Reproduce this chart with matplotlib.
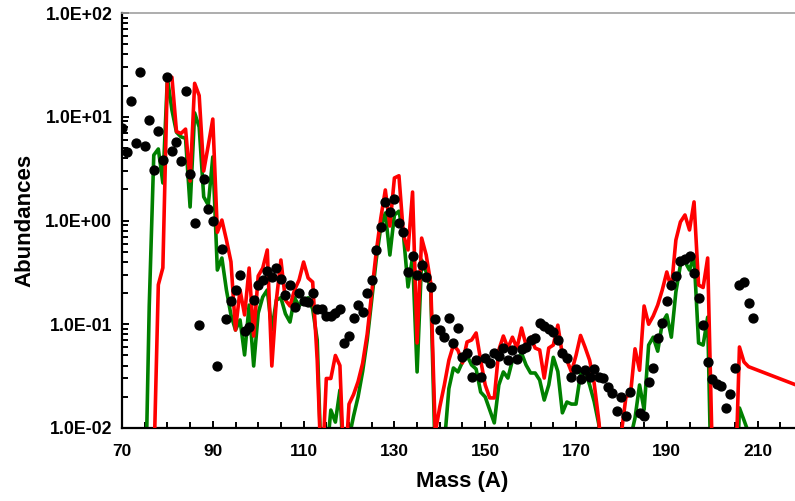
import numpy as np
import matplotlib.pyplot as plt
from matplotlib.ticker import FixedLocator, MultipleLocator, LogLocator, FuncFormatter, NullFormatter

plt.rcParams['font.family'] = ['Liberation Sans', 'DejaVu Sans']
plt.rcParams['font.weight'] = 'bold'

#%% solar r-process abundances (black dots), A = 70..209, no value at 183
mass_obs = np.arange(70, 210)
obs = [7.8, 4.6, 14.2, 5.6, 27, 5.2, 9.3, 3.07, 7.3, 3.83,                      # 70
       24.2, 4.68, 5.7, 3.75, 17.7, 2.8, 0.95, 0.099, 2.53, 1.29,               # 80
       0.98, 0.04, 0.535, 0.112, 0.169, 0.214, 0.299, 0.087, 0.095, 0.171,      # 90
       0.239, 0.267, 0.326, 0.288, 0.346, 0.271, 0.191, 0.239, 0.146, 0.201,    # 100
       0.167, 0.165, 0.199, 0.139, 0.139, 0.12, 0.12, 0.127, 0.139, 0.0655,     # 110
       0.0776, 0.114, 0.155, 0.130, 0.199, 0.267, 0.52, 0.86, 1.52, 1.22,       # 120
       1.61, 0.953, 0.78, 0.316, 0.455, 0.298, 0.372, 0.283, 0.227, 0.112,      # 130
       0.088, 0.075, 0.114, 0.066, 0.093, 0.048, 0.0525, 0.0313, 0.045, 0.0313, # 140
       0.047, 0.0427, 0.0532, 0.0494, 0.0586, 0.045, 0.0565, 0.046, 0.0574, 0.0608,  # 150
       0.0705, 0.0731, 0.1035, 0.096, 0.09, 0.0848, 0.0705, 0.0532, 0.047, 0.0313,   # 160
       0.0368, 0.0295, 0.0362, 0.0313, 0.0373, 0.0313, 0.0306, 0.0247, 0.0216, 0.0147,  # 170
       0.02, 0.0131, 0.0224, np.nan, 0.0139, 0.0131, 0.0279, 0.0376, 0.0733, 0.1035,   # 180
       0.1686, 0.239, 0.292, 0.41, 0.423, 0.458, 0.314, 0.178, 0.0984, 0.043,   # 190
       0.0295, 0.0264, 0.0256, 0.0157, 0.0213, 0.0376, 0.239, 0.253, 0.159, 0.1156]  # 200

#%% green calculation, A = 75..210
mass_green = np.arange(75, 211)
green = [0.001, 0.15, 4.27, 4.89, 2.3,                                          # 75
         23.6, 11.6, 7.1, 6.4, 6.2, 1.35, 10.9, 7.96, 1.69, 1.41,               # 80
         4.1, 0.333, 0.435, 0.214, 0.123, 0.088, 0.11, 0.0506, 0.153, 0.0396,   # 90
         0.128, 0.183, 0.214, 0.088, 0.171, 0.18, 0.126, 0.105, 0.18, 0.15,     # 100
         0.171, 0.18, 0.14, 0.0705, 0.003, 0.005, 0.0149, 0.0114, 0.0232, 0.003,  # 110
         0.008, 0.013, 0.02, 0.035, 0.07, 0.17, 0.42, 0.865, 1.18, 0.465,       # 120
         1.13, 1.23, 0.724, 0.229, 0.444, 0.0347, 0.416, 0.319, 0.214, 0.005,   # 130
         0.004, 0.007, 0.024, 0.0379, 0.0347, 0.0433, 0.05, 0.0405, 0.037, 0.0222,  # 140
         0.0199, 0.0149, 0.0112, 0.026, 0.0347, 0.0303, 0.045, 0.045, 0.0528, 0.0405,  # 150
         0.0339, 0.0339, 0.029, 0.0186, 0.026, 0.048, 0.035, 0.014, 0.0178, 0.017,  # 160
         0.017, 0.033, 0.036, 0.026, 0.018, 0.011, 0.004, 0.003, 0.003, 0.003,  # 170
         0.003, 0.004, 0.008, 0.0125, 0.026, 0.015, 0.063, 0.075, 0.055, 0.103,  # 180
         0.123, 0.075, 0.205, 0.372, 0.4, 0.333, 0.455, 0.066, 0.063, 0.117,    # 190
         0.001, 0.001, 0.001, 0.001, 0.001, 0.001, 0.0156, 0.0119, 0.009, 0.008,  # 200
         0.007]                                                                  # 210

#%% red calculation, A = 77..208 then 220
mass_red = list(range(77, 209)) + [220]
red = [0.004, 0.24, 0.35,                                                       # 77
       25, 24, 7.2, 6.9, 7.6, 2.4, 21, 16, 3.0, 5.3,                            # 80
       9.5, 0.77, 1.01, 0.65, 0.4, 0.088, 0.214, 0.123, 0.348, 0.077,          # 90
       0.292, 0.348, 0.52, 0.0396, 0.171, 0.416, 0.171, 0.15, 0.214, 0.267,    # 100
       0.398, 0.279, 0.255, 0.045, 0.003, 0.03, 0.03, 0.05, 0.04, 0.003,       # 110
       0.017, 0.021, 0.028, 0.042, 0.08, 0.2, 0.5, 1.05, 1.97, 0.885,          # 120
       2.57, 2.7, 0.724, 0.52, 1.88, 0.066, 0.677, 0.465, 0.25, 0.009,         # 130
       0.016, 0.026, 0.045, 0.063, 0.056, 0.0424, 0.0675, 0.0705, 0.0824, 0.045,  # 140
       0.026, 0.0195, 0.0195, 0.0565, 0.077, 0.059, 0.075, 0.059, 0.092, 0.063,   # 150
       0.075, 0.059, 0.0565, 0.0303, 0.059, 0.063, 0.098, 0.0506, 0.045, 0.0347,  # 160
       0.05, 0.078, 0.06, 0.045, 0.027, 0.012, 0.004, 0.002, 0.002, 0.002,    # 170
       0.009, 0.0199, 0.021, 0.058, 0.036, 0.15, 0.1, 0.12, 0.153, 0.214,      # 180
       0.319, 0.22, 0.648, 0.968, 1.13, 0.81, 1.51, 0.239, 0.226, 0.435,       # 190
       0.006, 0.002, 0.002, 0.002, 0.002, 0.002, 0.0604, 0.0433, 0.039,       # 200
       0.0245]                                                                  # 220

#%%
fig = plt.figure(figsize=(7.95, 5.01), dpi=100)
ax = fig.add_axes([122/795, 73/501, 681/795, 415/501])

ax.plot(mass_green, green, color='#008000', lw=2.6, zorder=2)
ax.plot(mass_red, red, color='#FF0000', lw=2.6, zorder=3)
ax.plot(mass_obs, obs, 'o', color='black', ms=6.4, zorder=4)

ax.set_yscale('log')
ax.set_ylim(1e-2, 1e2)
ax.set_xlim(70, 220)

ax.xaxis.set_major_locator(FixedLocator(np.arange(70, 221, 20)))
ax.xaxis.set_minor_locator(MultipleLocator(5))
ax.yaxis.set_major_locator(LogLocator(base=10))
ax.yaxis.set_minor_locator(LogLocator(base=10, subs=np.arange(2, 10)))
ax.yaxis.set_major_formatter(FuncFormatter(lambda v, p: f'{v:.1E}'))
ax.yaxis.set_minor_formatter(NullFormatter())

ax.spines['right'].set_visible(False)
ax.spines['top'].set_color('#A0A0A0')
ax.spines['top'].set_linewidth(1.2)
ax.spines['left'].set_linewidth(1.6)
ax.spines['bottom'].set_linewidth(1.6)

ax.tick_params(which='both', direction='in', top=False, right=False, width=1.4)
ax.tick_params(which='major', length=5)
ax.tick_params(which='minor', length=4)
ax.tick_params(axis='x', which='major', labelsize=12.5, pad=11.5)
ax.tick_params(axis='y', which='major', labelsize=12.8, pad=7)

ax.set_xlabel('Mass (A)', fontsize=16, fontweight='bold', labelpad=9)
ax.set_ylabel('Abundances', fontsize=16, fontweight='bold', labelpad=7)

fig.savefig('out.png', dpi=100)
